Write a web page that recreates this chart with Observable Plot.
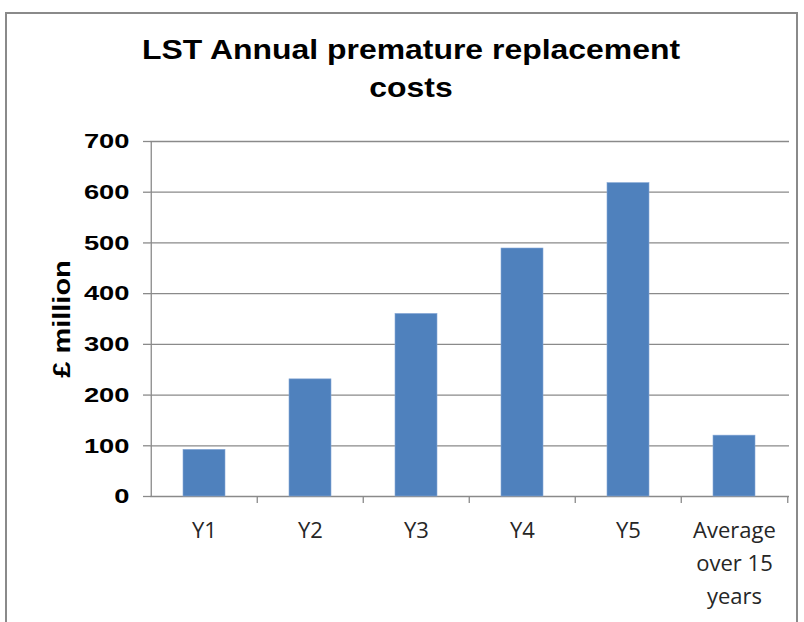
<!DOCTYPE html>
<html><head><meta charset="utf-8">
<script src="https://cdn.jsdelivr.net/npm/d3@7"></script>
<script src="https://cdn.jsdelivr.net/npm/@observablehq/plot@0.6"></script>
<style>
body{margin:0;background:#fff;}
#wrap{position:relative;width:804px;height:622px;overflow:hidden;}
#frame{position:absolute;left:5px;top:12px;width:793px;height:640px;border:2px solid #8a8a8a;box-sizing:border-box;}
#title{position:absolute;left:0;top:31px;width:822px;text-align:center;font:bold 28px "Liberation Sans",Arial,sans-serif;line-height:38px;color:#000;transform:scaleX(1.14);transform-origin:411px 0;}
svg g[aria-label="y-axis tick label"] text{font-family:"Liberation Sans",Arial,sans-serif;font-weight:bold;font-size:21px;}
svg g[aria-label="x-axis tick label"] text{font-family:"Open Sans",sans-serif;font-size:22px;}
</style></head>
<body><div id="wrap"><div id="frame"></div><div id="title">LST Annual premature replacement<br>costs</div><div id="chart"></div></div>
<script>
const categories = ["Y1","Y2","Y3","Y4","Y5","Average\nover 15\nyears"];
const values = [92,231,360,489,618,120];
const yTicks = [0,100,200,300,400,500,600,700];
const yLabel = "£ million";

const data = categories.map((c,i)=>({cat:c, value:values[i]}));
const W=804,H=622,mL=150,mR=15,mT=141,mB=126;
const step=(W-mL-mR)/categories.length;
const grid="#8a8a8a";

const chart = Plot.plot({
  width:W,height:H,marginLeft:mL,marginRight:mR,marginTop:mT,marginBottom:mB,
  style:{background:"transparent",overflow:"visible"},
  x:{domain:categories,paddingInner:0.6,paddingOuter:0.3,label:null},
  y:{domain:[0,700],label:null},
  marks:[
    Plot.ruleY(yTicks,{stroke:grid,strokeWidth:1.3}),
    Plot.axisY({ticks:yTicks,tickSize:7,tickPadding:14,stroke:grid,strokeWidth:1.3,fill:"#000",label:null}),
    Plot.ruleX(categories,{x:d=>d,y1:0,y2:d=>d===categories[0]?700:-14,dx:-step/2,stroke:grid,strokeWidth:1.3}),
    Plot.ruleX([categories[categories.length-1]],{x:d=>d,y1:0,y2:-14,dx:step/2,stroke:grid,strokeWidth:1.3}),
    Plot.barY(data,{x:"cat",y:"value",fill:"#4F81BD",stroke:"#86a8d6",strokeWidth:0.6}),
    Plot.axisX({tickSize:0,tickPadding:18,lineHeight:1.5,fill:"#262626",label:null}),
    Plot.text([yLabel],{frameAnchor:"left",textAnchor:"middle",rotate:-90,dx:-88,text:d=>d,fontSize:23,fontWeight:"bold",fontFamily:"Liberation Sans, Arial, sans-serif",fill:"#000"})
  ]
});
document.getElementById("chart").appendChild(chart);
// widen glyphs horizontally to match the reference's stretched text
chart.querySelectorAll('g[aria-label="y-axis tick label"] text').forEach(t=>{
  const L=t.getComputedTextLength();
  t.setAttribute("textLength",(L*1.3).toFixed(1));
  t.setAttribute("lengthAdjust","spacingAndGlyphs");
});
chart.querySelectorAll('g[aria-label="text"] text').forEach(t=>{
  const L=t.getComputedTextLength();
  t.setAttribute("textLength",(L*1.26).toFixed(1));
  t.setAttribute("lengthAdjust","spacingAndGlyphs");
});
</script></body></html>
